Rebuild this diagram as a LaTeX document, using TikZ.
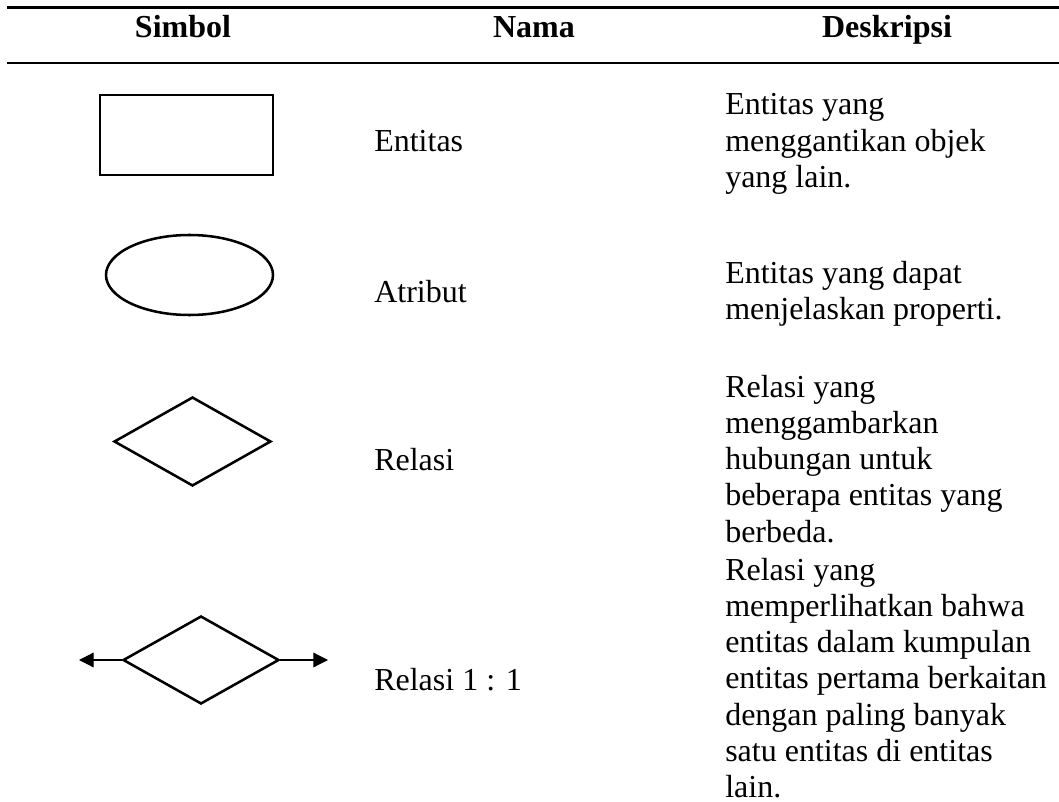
\documentclass[tikz,border=0pt]{standalone}
\usepackage{fontspec}
\setmainfont{Liberation Serif}
\usetikzlibrary{shapes.geometric,arrows.meta}
\tikzset{
  sym/.style={draw=black, line width=1.9pt, inner sep=0pt, fill=none},
  rule/.style={draw=black, line width=2.2pt},
  head/.style={font=\fontsize{24}{27.2}\selectfont\bfseries, anchor=base, inner sep=0pt},
  nama/.style={anchor=base west, inner sep=0pt},
  desk/.style={anchor=base west, inner sep=0pt},
  arr/.style={draw=black, line width=0.9pt, -{Triangle[length=11pt, width=11pt]}},
}
\newcommand{\desc}[1]{\parbox[t]{300pt}{\raggedright #1}}
\begin{document}
\begin{tikzpicture}[x=0.75pt, y=-0.75pt, font=\fontsize{24}{27.2}\selectfont]
\useasboundingbox (0,0) rectangle (1059,802);
% header rules
\draw[rule] (7,7.5) -- (1059,7.5);
\draw[rule] (7,63) -- (1059,63);
% header
\node[head] (hs) at (183,38) {Simbol};
\node[head] (hn) at (534,38) {Nama};
\node[head] (hd) at (887,38) {Deskripsi};
% symbols
\node[sym, rectangle, minimum width=129.75pt, minimum height=60pt] (ent) at (186.5,135) {};
\node[sym, ellipse, minimum width=125.25pt, minimum height=60pt] (atr) at (189.5,275) {};
\node[sym, diamond, minimum width=117.75pt, minimum height=66.75pt] (rel) at (192.5,441.5) {};
\node[sym, diamond, minimum width=117pt, minimum height=66pt] (rel11) at (201,660) {};
\coordinate (la) at (79,660);
\coordinate (ra) at (328,660);
\draw[arr] (rel11.west) -- (la);
\draw[arr] (rel11.east) -- (ra);
% names
\node[nama] (n1) at (374,152) {Entitas};
\node[nama] (n2) at (374,302) {Atribut};
\node[nama] (n3) at (374,470) {Relasi};
\node[nama] (n4) at (374,690) {Relasi 1 : 1};
% descriptions
\node[desk] (d1) at (725,115) {\desc{Entitas yang\\menggantikan objek\\yang lain.}};
\node[desk] (d2) at (725,283) {\desc{Entitas yang dapat\\menjelaskan properti.}};
\node[desk] (d3) at (725,397) {\desc{Relasi yang\\menggambarkan\\hubungan untuk\\beberapa entitas yang\\berbeda.}};
\node[desk] (d4) at (725,580) {\desc{Relasi yang\\memperlihatkan bahwa\\entitas dalam kumpulan\\entitas pertama berkaitan\\dengan paling banyak\\satu entitas di entitas\\lain.}};
\end{tikzpicture}
\end{document}
